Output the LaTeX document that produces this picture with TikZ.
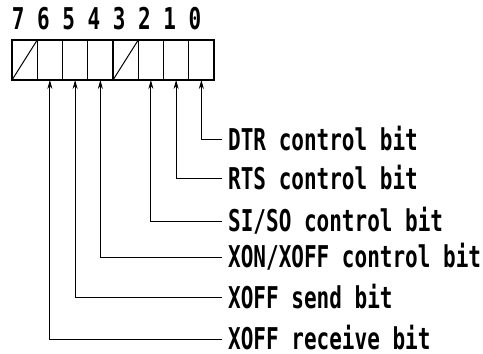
\documentclass[tikz,border=0pt]{standalone}
\usepackage{fontspec}
\usetikzlibrary{arrows.meta}
\newfontfamily\lbl[FakeStretch=0.7]{DejaVu Sans Mono Bold}
\begin{document}
\begin{tikzpicture}[x=1pt,y=-1pt,
  bitbox/.style={draw,line width=1.3pt,minimum width=25.25pt,minimum height=40pt,inner sep=0pt,outer sep=0pt},
  digit/.style={font=\lbl\fontsize{30}{30}\selectfont,text height=21.9pt,text depth=0pt,inner sep=0pt},
  lab/.style={font=\lbl\fontsize{30}{30}\selectfont,text height=21.9pt,text depth=0pt,inner ysep=0pt,inner xsep=6pt,anchor=west},
  conn/.style={line width=0.8pt,-{Stealth[length=9pt,width=5pt]}}]
\useasboundingbox (0,0) rectangle (483,354);
\foreach \b in {0,...,7}{
  \node[bitbox] (b\b) at ({12+(7-\b)*25.25+12.625},60) {};
  \node[digit] (d\b) at ([xshift=-6.5pt]b\b.center |- 0,18.5) {\b};
}
\draw[line width=1pt] (b7.south west) -- (b7.north east);
\draw[line width=1pt] (b3.south west) -- (b3.north east);
\node[lab] (l0) at (222,139.5) {DTR control bit};
\node[lab] (l1) at (222,178.5) {RTS control bit};
\node[lab] (l2) at (222,221) {SI/SO control bit};
\node[lab] (l4) at (222,257) {XON/XOFF control bit};
\node[lab] (l5) at (222,297.5) {XOFF send bit};
\node[lab] (l6) at (222,339) {XOFF receive bit};
\foreach \i/\b in {0/0,1/1,2/2,4/4,5/5,6/6}{
  \draw[conn] (l\i.west) -| (b\b.south);
}
\end{tikzpicture}
\end{document}
